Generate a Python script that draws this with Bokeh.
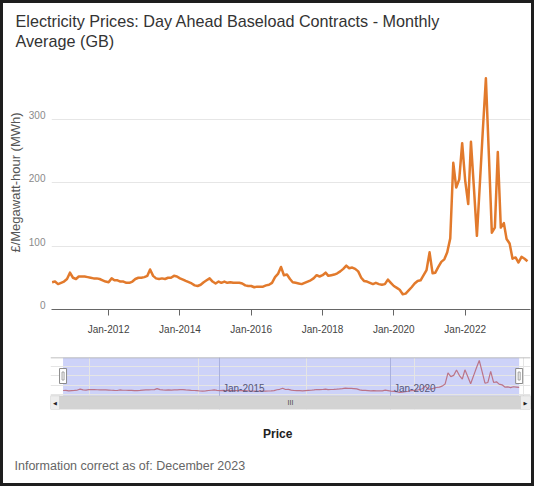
import pandas as pd
from bokeh.plotting import figure
from bokeh.models import (Range1d, FixedTicker, DatetimeTickFormatter, Label, Legend,
                          LegendItem, BoxAnnotation, Span, Grid, LinearAxis, ColumnDataSource)
from bokeh.core.properties import value
from bokeh.layouts import column
from bokeh.embed import file_html
from bokeh.resources import INLINE

# ---------------- data ----------------
title_lines = ["Electricity Prices: Day Ahead Baseload Contracts - Monthly", "Average (GB)"]
y_axis_title = "£/Megawatt-hour (MWh)"
series_name = "Price"
footer_text = "Information correct as of: December 2023"
first_month = "2010-06-01"

prices_2010 = [43, 44, 40, 42, 44, 48, 58]
prices_2011 = [50, 48, 52, 52, 52, 51, 50, 49, 49, 48, 46, 44]
prices_2012 = [43, 49, 46, 46, 44, 44, 42, 42, 44, 48, 50, 50]
prices_2013 = [51, 53, 63, 53, 49, 48, 49, 48, 50, 50, 53, 52]
prices_2014 = [49, 47, 45, 43, 41, 38, 37, 39, 43, 46, 49, 44]
prices_2015 = [41, 44, 42, 44, 42, 43, 42, 42, 42, 41, 38, 37]
prices_2016 = [37, 35, 36, 36, 36, 38, 39, 42, 51, 56, 67, 54]
prices_2017 = [55, 48, 43, 42, 41, 40, 42, 44, 46, 49, 54, 52]
prices_2018 = [54, 58, 53, 54, 55, 57, 60, 64, 69, 65, 66, 64]
prices_2019 = [60, 50, 45, 44, 42, 40, 42, 40, 39, 40, 47, 42]
prices_2020 = [37, 34, 31, 24, 25, 30, 35, 41, 45, 46, 54, 62]
prices_2021 = [90, 57, 58, 67, 75, 79, 90, 112, 231, 192, 205, 262]
prices_2022 = [203, 166, 264, 190, 116, 200, 283, 364, 242, 121, 129, 248]
prices_2023 = [129, 136, 111, 104, 80, 82, 74, 83, 80, 76]

y_ticks = [0, 100, 200, 300, 400]
y_tick_labels = ["0", "100", "200", "300", ""]
x_tick_years = [2012, 2014, 2016, 2018, 2020, 2022]
nav_tick_years = [2015, 2020]
nav_tick_labels = ["Jan-2015", "Jan-2020"]

# ---------------- build ----------------
prices = (prices_2010 + prices_2011 + prices_2012 + prices_2013 + prices_2014 +
          prices_2015 + prices_2016 + prices_2017 + prices_2018 + prices_2019 +
          prices_2020 + prices_2021 + prices_2022 + prices_2023)
dates = pd.date_range(first_month, periods=len(prices), freq="MS")


def ms(t):
    return pd.Timestamp(t).value / 1e6


date_ms = [ms(d) for d in dates]
src = ColumnDataSource(dict(date=date_ms, price=prices))

ORANGE = "#e27a2c"
FONT = "Liberation Sans"
DAY = 86400000.0
W = 528
Y_MIN, Y_MAX = 0, 400
LABEL_LIFT = 7  # tick labels sit just above their gridline, as in the original


def blank(fig):
    fig.outline_line_color = None
    fig.background_fill_color = "white"
    fig.border_fill_color = "white"


# ---------------- title ----------------
head = figure(width=W, height=50, x_axis_location=None, y_axis_location=None,
              x_range=Range1d(0, 1), y_range=Range1d(0, 1), output_backend="svg",
              toolbar_location=None, min_border_left=0, min_border_right=0,
              min_border_top=0, min_border_bottom=0, frame_align=False)
blank(head)
head.xgrid.visible = False
head.ygrid.visible = False
for txt, yy in zip(title_lines, [32.5, 12.5]):
    head.add_layout(Label(x=12, y=yy, x_units="screen", y_units="screen", text=txt,
                          text_font=FONT, text_font_size="16.2px", text_color="#333333",
                          text_baseline="alphabetic", text_align="left"))

# ---------------- main chart ----------------
p = figure(width=W, height=286, x_axis_type="datetime", y_axis_location=None,
           x_range=Range1d(date_ms[0] - 6 * DAY, date_ms[-1] + 31 * DAY),
           y_range=Range1d(Y_MIN, Y_MAX), output_backend="svg", toolbar_location=None,
           min_border_left=48, min_border_right=1, min_border_top=2, min_border_bottom=30,
           frame_align=False)
blank(p)
p.xgrid.visible = False
p.ygrid.visible = False
p.add_layout(Grid(dimension=1, ticker=FixedTicker(ticks=y_ticks), grid_line_color="#e6e6e6"))

p.extra_y_ranges = {"labels": Range1d(Y_MIN - LABEL_LIFT, Y_MAX - LABEL_LIFT)}
yax = LinearAxis(y_range_name="labels", ticker=FixedTicker(ticks=y_ticks),
                 major_label_overrides=dict(zip(y_ticks, y_tick_labels)))
yax.axis_line_color = None
yax.major_tick_line_color = None
yax.major_tick_out = 0
yax.major_tick_in = 0
yax.minor_tick_line_color = None
yax.minor_tick_out = 0
yax.major_label_text_font = FONT
yax.major_label_text_font_size = "10px"
yax.major_label_text_color = "#8a8a8a"
yax.major_label_standoff = 6
yax.axis_label = y_axis_title
yax.axis_label_text_font = FONT
yax.axis_label_text_font_size = "13px"
yax.axis_label_text_font_style = "normal"
yax.axis_label_text_color = "#555555"
yax.axis_label_standoff = 3
p.add_layout(yax, "left")

p.xaxis.ticker = FixedTicker(ticks=[ms(f"{y}-01-01") for y in x_tick_years])
p.xaxis.formatter = DatetimeTickFormatter(years="%b-%Y", months="%b-%Y", days="%b-%Y")
p.xaxis.axis_line_color = "#666666"
p.xaxis.major_tick_line_color = "#666666"
p.xaxis.major_tick_out = 6
p.xaxis.major_tick_in = 0
p.xaxis.minor_tick_line_color = None
p.xaxis.major_label_text_font = FONT
p.xaxis.major_label_text_font_size = "10px"
p.xaxis.major_label_text_color = "#444444"
p.xaxis.major_label_standoff = 8

p.line("date", "price", source=src, line_color=ORANGE, line_width=2.5, line_join="round")

# ---------------- navigator ----------------
nav = figure(width=W, height=73, x_axis_location=None, y_axis_location=None,
             x_range=Range1d(date_ms[0] - 134 * DAY, date_ms[-1] + 121 * DAY),
             y_range=Range1d(-160, 396), output_backend="svg", toolbar_location=None,
             min_border_left=47, min_border_right=1, min_border_top=18, min_border_bottom=3,
             frame_align=False)
blank(nav)

nav.add_layout(BoxAnnotation(left=date_ms[0], right=date_ms[-1], bottom=-14,
                             fill_color="#cdd2f8", fill_alpha=1.0, line_color=None,
                             level="image"))
nav.add_layout(Grid(dimension=0, ticker=FixedTicker(ticks=[ms(f"{y}-01-01") for y in nav_tick_years]),
                    grid_line_color="#aab1dd", grid_line_width=1))
nav.line("date", "price", source=src, line_color="#bb7488", line_width=1.2)
nav.text(x=[ms(f"{y}-01-01") for y in nav_tick_years], y=[62, 62], text=nav_tick_labels,
         x_offset=3, text_font=value(FONT), text_font_size="10px", text_color="#55567a",
         text_baseline="alphabetic", text_align="left")
nav.add_layout(Span(location=396, dimension="width", line_color="#aaaaaa", line_width=1.5))

# scrollbar
nav.add_layout(BoxAnnotation(top=-14, fill_color="#d3d3d3", fill_alpha=1.0,
                             line_color="#bdbdbd", line_width=1))
nav.add_layout(BoxAnnotation(right=9, right_units="screen", top=-14, fill_color="#ededed",
                             fill_alpha=1.0, line_color="#bdbdbd"))
nav.add_layout(BoxAnnotation(left=470, left_units="screen", top=-14, fill_color="#ededed",
                             fill_alpha=1.0, line_color="#bdbdbd"))
for sx, ch in [(4.5, "◀"), (475, "▶")]:
    nav.add_layout(Label(x=sx, y=-86, x_units="screen", text=ch, text_font="DejaVu Sans",
                         text_font_size="5px", text_color="#222222", text_align="center",
                         text_baseline="middle"))
nav.add_layout(Label(x=240, y=-86, x_units="screen", text="III", text_font=FONT,
                     text_font_size="7px", text_color="#444444", text_align="center",
                     text_baseline="middle"))
# range handles
nav.rect(x=[date_ms[0], date_ms[-1]], y=[198, 198], width=7, height=15,
         width_units="screen", height_units="screen", fill_color="white",
         line_color="#8a8a8a", line_width=1)
nav.rect(x=[date_ms[0], date_ms[-1]], y=[198, 198], width=2, height=8,
         width_units="screen", height_units="screen", fill_color=None,
         line_color="#a0a0a0", line_width=1)

# ---------------- legend + footer ----------------
foot = figure(width=W, height=71, x_axis_location=None, y_axis_location=None,
              x_range=Range1d(0, 1), y_range=Range1d(0, 1), output_backend="svg",
              toolbar_location=None, min_border_left=0, min_border_right=0,
              min_border_top=0, min_border_bottom=0, frame_align=False)
blank(foot)
foot.xgrid.visible = False
foot.ygrid.visible = False
dummy = foot.line(x=[], y=[], line_color=ORANGE, line_width=3)
legend = Legend(items=[LegendItem(label=series_name, renderers=[dummy])], location=(242, 42),
                orientation="horizontal", glyph_width=13, glyph_height=14, label_height=14,
                label_standoff=5, padding=0, margin=0, spacing=0, border_line_color=None,
                background_fill_alpha=0, label_text_font=FONT, label_text_font_size="12px",
                label_text_font_style="bold", label_text_color="#222222")
foot.add_layout(legend)
foot.add_layout(Label(x=11, y=18, x_units="screen", y_units="screen", text=footer_text,
                      text_font=FONT, text_font_size="12.5px", text_color="#666666",
                      text_baseline="middle", text_align="left"))

layout = column(head, p, nav, foot, spacing=0, styles={"border": "3px solid #1e1e1e"})

open("out.html", "w").write(file_html(layout, INLINE, title="Electricity Prices"))
